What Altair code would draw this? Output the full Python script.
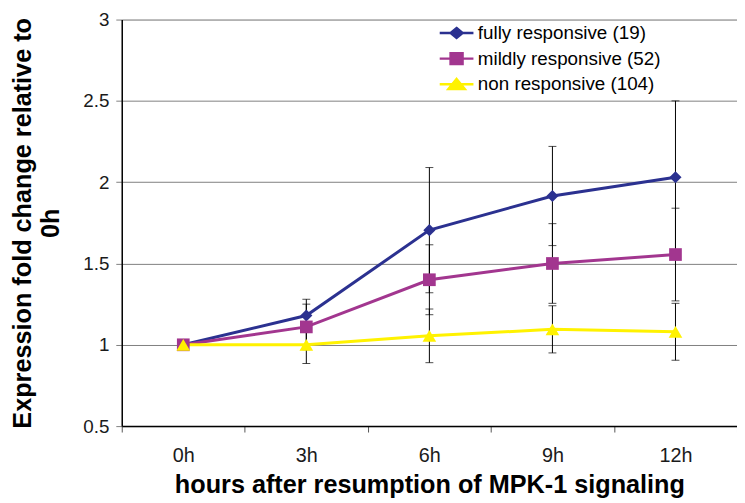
import altair as alt
import pandas as pd

times = ["0h", "3h", "6h", "9h", "12h"]
series_names = ["fully responsive (19)", "mildly responsive (52)", "non responsive (104)"]

fully = [1.0, 1.18, 1.705, 1.915, 2.03]
fully_err = [0.0, 0.10, 0.385, 0.305, 0.47]
mildly = [1.0, 1.11, 1.40, 1.50, 1.555]
mildly_err = [0.0, 0.14, 0.215, 0.245, 0.285]
non = [1.0, 1.0, 1.055, 1.095, 1.08]
non_err = [0.0, 0.115, 0.165, 0.145, 0.175]

colors = ["#2B3190", "#A2368F", "#FFF200"]
shapes = ["diamond", "square", "triangle-up"]
legend_paths = [
    "M-1.55,0L1.55,0M0,-0.45L0.55,0L0,0.45L-0.55,0Z",
    "M-1.55,0L1.55,0M-0.55,-0.5L0.55,-0.5L0.55,0.5L-0.55,0.5Z",
    "M-1.55,0L1.55,0M0,-0.5L0.75,0.42L-0.75,0.42Z",
]

rows = []
for name, vals, errs in zip(series_names, [fully, mildly, non], [fully_err, mildly_err, non_err]):
    for t, v, e in zip(times, vals, errs):
        rows.append({"time": t, "series": name, "value": v, "lo": v - e, "hi": v + e})
df = pd.DataFrame(rows)

FONT = "Liberation Sans"

x_enc = alt.X(
    "time:N",
    sort=times,
    scale=alt.Scale(paddingInner=0, paddingOuter=0),
    axis=alt.Axis(
        title="hours after resumption of MPK-1 signaling",
        tickBand="extent",
        labelAngle=0,
        labelFont=FONT,
        labelFontSize=20,
        labelColor="#1a1a1a",
        labelBaseline="alphabetic",
        labelPadding=30,
        tickSize=6,
        tickColor="#555555",
        domainColor="black",
        domainWidth=1.5,
        titleFont=FONT,
        titleFontSize=25.5,
        titleFontWeight="bold",
        titleColor="black",
        titleBaseline="alphabetic",
        titleY=67,
        grid=False,
    ),
)

y_scale = alt.Scale(domain=[0.5, 3], nice=False, zero=False)
y_axis = alt.Axis(
    title=["Expression fold change relative to", "0h"],
    values=[0.5, 1, 1.5, 2, 2.5, 3],
    format="~g",
    labelFont=FONT,
    labelFontSize=19,
    labelColor="#1a1a1a",
    labelPadding=7,
    tickSize=6,
    tickColor="#808080",
    domainColor="black",
    domainWidth=1.5,
    grid=True,
    gridColor="#808080",
    gridWidth=1,
    titleFont=FONT,
    titleFontSize=25.5,
    titleFontWeight="bold",
    titleColor="black",
    titleAngle=270,
    titleAlign="center",
    titleBaseline="top",
    titleX=-112,
    titleLineHeight=28,
)

base = alt.Chart(df)

err_rule = base.mark_rule(color="black", strokeWidth=1).encode(
    x=x_enc, y=alt.Y("lo:Q", scale=y_scale, axis=y_axis), y2="hi:Q"
)
err_lo = base.mark_tick(color="black", thickness=1, size=8, orient="horizontal").encode(
    x=x_enc, y=alt.Y("lo:Q", scale=y_scale)
)
err_hi = base.mark_tick(color="black", thickness=1, size=8, orient="horizontal").encode(
    x=x_enc, y=alt.Y("hi:Q", scale=y_scale)
)

line_layers = []
point_layers = []
sizes = [150, 165, 190]
for name, shp, col, sz in zip(series_names, shapes, colors, sizes):
    sub = base.transform_filter(alt.datum.series == name)
    line_layers.append(
        sub.mark_line(strokeWidth=3, color=col).encode(x=x_enc, y=alt.Y("value:Q", scale=y_scale))
    )
    point_layers.append(
        sub.mark_point(shape=shp, filled=True, size=sz, color=col, opacity=1)
        .encode(x=x_enc, y=alt.Y("value:Q", scale=y_scale))
    )

leg = alt.Legend(
    title=None,
    orient="none",
    legendX=326,
    legendY=1,
    symbolSize=484,
    symbolStrokeWidth=2.5,
    symbolOpacity=1,
    labelFont=FONT,
    labelFontSize=19,
    labelColor="black",
    labelOffset=9,
    labelLimit=0,
    rowPadding=3,
    padding=0,
)
legend_layer = base.transform_filter("false").mark_point(filled=True, opacity=1).encode(
    x=x_enc,
    y=alt.Y("value:Q", scale=y_scale),
    fill=alt.Fill("series:N", scale=alt.Scale(domain=series_names, range=colors), legend=leg),
    stroke=alt.Stroke("series:N", scale=alt.Scale(domain=series_names, range=colors), legend=leg),
    shape=alt.Shape("series:N", scale=alt.Scale(domain=series_names, range=legend_paths), legend=leg),
)

chart = alt.layer(err_rule, err_lo, err_hi, *line_layers, *point_layers, legend_layer).properties(
    width=622,
    height=411,
    autosize=alt.AutoSizeParams(type="none"),
    padding={"left": 115, "top": 9, "right": 0, "bottom": 70},
).configure_view(stroke=None).configure(background="white")

chart.save("out.html", embed_options={"renderer": "svg", "actions": False})
